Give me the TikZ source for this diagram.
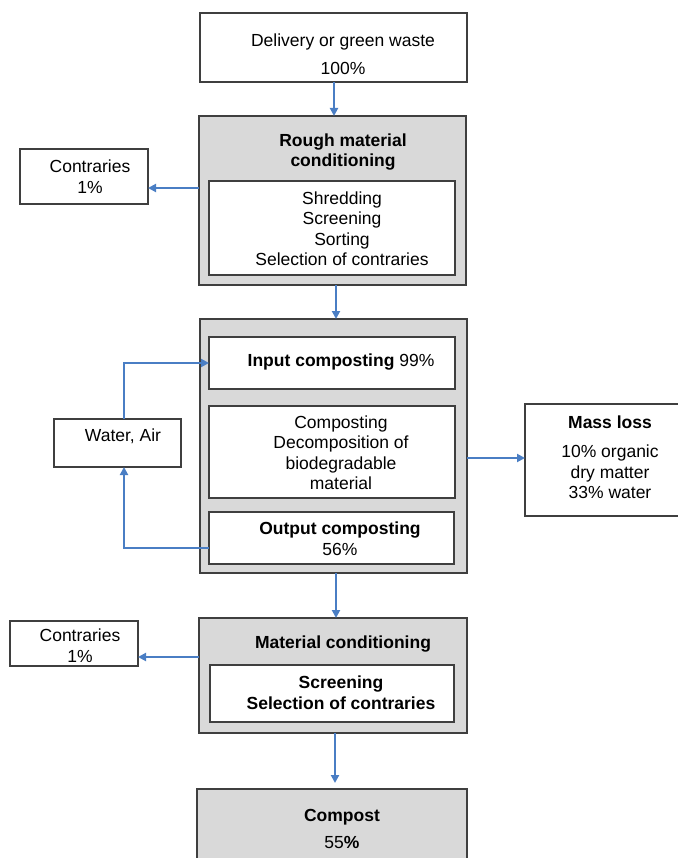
\documentclass[tikz,border=0pt]{standalone}
\usepackage{fontspec}
\setmainfont{Liberation Sans}
\usetikzlibrary{arrows.meta,calc}
\definecolor{boxgray}{HTML}{D9D9D9}
\definecolor{edge}{HTML}{3F3F3F}
\definecolor{flow}{HTML}{4A7EC4}
\begin{document}
\begin{tikzpicture}[x=1pt,y=-1pt,
  wbox/.style={draw=edge,line width=1.5pt,fill=white,inner sep=0pt,outer sep=0pt},
  gbox/.style={draw=edge,line width=1.5pt,fill=boxgray,inner sep=0pt,outer sep=0pt},
  txt/.style={inner sep=0pt,align=center,font=\fontsize{17.5}{20.5}\selectfont},
  flowline/.style={draw=flow,line width=2pt,-{Triangle[length=8pt,width=8pt]}}]
\useasboundingbox (0,0) rectangle (677,858);
% boxes
\node[wbox,minimum width=267,minimum height=69] (top) at (333.5,47.5) {};
\node[gbox,minimum width=267,minimum height=169] (rough) at (332.5,200.5) {};
\node[wbox,minimum width=246,minimum height=94] (roughin) at (332,228) {};
\node[wbox,minimum width=128,minimum height=55] (c1) at (84,176.5) {};
\node[gbox,minimum width=267,minimum height=254] (comp) at (333.5,446) {};
\node[wbox,minimum width=246,minimum height=52] (inp) at (332,363) {};
\node[wbox,minimum width=246,minimum height=92] (mid) at (332,452) {};
\node[wbox,minimum width=245,minimum height=52] (outp) at (331.5,538) {};
\node[wbox,minimum width=127,minimum height=48] (wa) at (117.5,443) {};
\node[wbox,minimum width=165,minimum height=112] (mass) at (607.5,460) {};
\node[gbox,minimum width=268,minimum height=115] (mat) at (333,675.5) {};
\node[wbox,minimum width=244,minimum height=57] (matin) at (332,693.5) {};
\node[wbox,minimum width=128,minimum height=45] (c2) at (74,643.5) {};
\node[gbox,minimum width=270,minimum height=86] (compost) at (332,832) {};
% texts
\node[txt] (t1) at (343,54) {Delivery or green waste\\[7pt]100\%};
\node[txt,font=\fontsize{17.5}{20.5}\selectfont\bfseries] (t2) at (343,152) {Rough material\\conditioning};
\node[txt] (t3) at (342,228.5) {Shredding\\Screening\\Sorting\\Selection of contraries};
\node[txt] (t4) at (90,176.5) {Contraries\\1\%};
\node[txt] (t5) at (341,362) {\textbf{Input composting} 99\%};
\node[txt] (t6) at (341,452.5) {Composting\\Decomposition of\\biodegradable\\material};
\node[txt] (t7) at (340,538.5) {\textbf{Output composting}\\56\%};
\node[txt] (t8) at (123,436) {Water, Air};
\node[txt,font=\fontsize{17.5}{20.5}\selectfont\bfseries] (t9) at (610,422) {Mass loss};
\node[txt] (t10) at (610,472) {10\% organic\\dry matter\\33\% water};
\node[txt,font=\fontsize{17.5}{20.5}\selectfont\bfseries] (t11) at (343,644) {Material conditioning};
\node[txt,font=\fontsize{17.5}{20.5}\selectfont\bfseries] (t12) at (341,692.5) {Screening\\Selection of contraries};
\node[txt] (t13) at (80,645.5) {Contraries\\1\%};
\node[txt] (t14) at (342,829) {\textbf{Compost}\\[7pt]55\textbf{\%}};
% connectors
\coordinate (r0) at (334,82);
\coordinate (r1) at (199,188);
\coordinate (r2) at (336,285);
\coordinate (w1) at (124,363);
\coordinate (w2) at (209,548);
\coordinate (m1) at (467,458);
\coordinate (r3) at (336,573);
\coordinate (r4) at (199,657);
\coordinate (r5) at (335,733);
\coordinate (r6) at (335,783);
\draw[flowline] (r0) -- (r0 |- rough.north);
\draw[flowline] (r1) -- (r1 -| c1.east);
\draw[flowline] (r2) -- (r2 |- comp.north);
\draw[flowline] (w1 |- wa.north) |- (inp.west);
\draw[flowline] (w2) -| (w1 |- wa.south);
\draw[flowline] (m1) -- (m1 -| mass.west);
\draw[flowline] (r3) -- (r3 |- mat.north);
\draw[flowline] (r4) -- (r4 -| c2.east);
\draw[flowline] (r5) -- (r6);
\end{tikzpicture}
\end{document}
